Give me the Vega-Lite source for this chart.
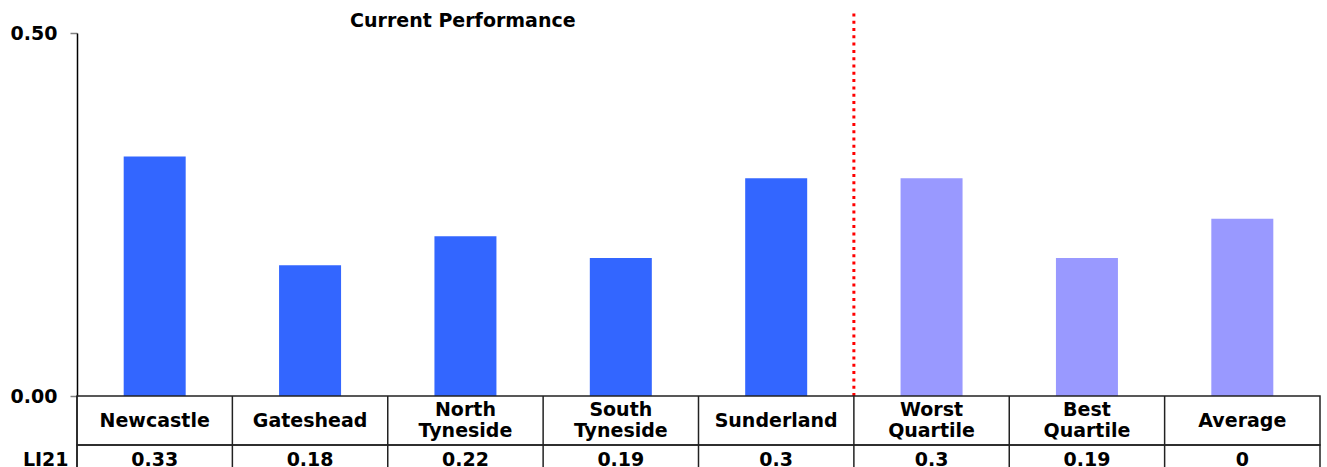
{
  "$schema": "https://vega.github.io/schema/vega-lite/v6.json",
  "background": "white",
  "padding": {"left": 10, "top": 9, "right": 0, "bottom": 0},
  "bounds": "flush",
  "config": {
    "font": "DejaVu Sans",
    "view": {"stroke": null},
    "axis": {"labelFont": "DejaVu Sans", "labelFontWeight": "bold", "labelFontSize": 19, "labelColor": "black", "grid": false}
  },
  "datasets": {
    "li21": [
      {"indicator": "LI21", "area": "Newcastle", "value": 0.33, "label": "0.33", "group": "Authority"},
      {"indicator": "LI21", "area": "Gateshead", "value": 0.18, "label": "0.18", "group": "Authority"},
      {"indicator": "LI21", "area": "North Tyneside", "value": 0.22, "label": "0.22", "group": "Authority"},
      {"indicator": "LI21", "area": "South Tyneside", "value": 0.19, "label": "0.19", "group": "Authority"},
      {"indicator": "LI21", "area": "Sunderland", "value": 0.30, "label": "0.3", "group": "Authority"},
      {"indicator": "LI21", "area": "Worst Quartile", "value": 0.30, "label": "0.3", "group": "Benchmark"},
      {"indicator": "LI21", "area": "Best Quartile", "value": 0.19, "label": "0.19", "group": "Benchmark"},
      {"indicator": "LI21", "area": "Average", "value": 0.244, "label": "0", "group": "Benchmark"}
    ]
  },
  "spacing": 0,
  "vconcat": [
    {
      "width": 1243,
      "height": 363,
      "title": {"text": "Current Performance", "anchor": "start", "offset": -21, "dx": 340, "fontSize": 19, "fontWeight": "bold", "font": "DejaVu Sans", "color": "black"},
      "data": {"name": "li21"},
      "layer": [
        {
          "mark": {"type": "bar", "width": 62},
          "encoding": {
            "x": {
              "field": "area", "type": "nominal", "sort": null,
              "scale": {"type": "band", "paddingInner": 0, "paddingOuter": 0, "domain": ["Newcastle", "Gateshead", "North Tyneside", "South Tyneside", "Sunderland", "Worst Quartile", "Best Quartile", "Average"]},
              "axis": null
            },
            "y": {
              "field": "value", "type": "quantitative", "stack": null,
              "scale": {"domain": [0, 0.5], "nice": false},
              "axis": {"title": null, "values": [0, 0.5], "format": ".2f", "tickSize": 7, "tickColor": "#808080", "tickWidth": 1.5, "domainColor": "black", "domainWidth": 1.5, "labelPadding": 13}
            },
            "color": {"field": "group", "type": "nominal", "scale": {"domain": ["Authority", "Benchmark"], "range": ["#3366FF", "#9999FF"]}, "legend": null}
          }
        },
        {
          "transform": [{"filter": "datum.area === 'Worst Quartile'"}],
          "mark": {"type": "rule", "color": "#FF0000", "strokeWidth": 3, "strokeDash": [3, 4.3]},
          "encoding": {
            "x": {
              "field": "area", "type": "nominal", "sort": null, "bandPosition": 0,
              "scale": {"type": "band", "paddingInner": 0, "paddingOuter": 0, "domain": ["Newcastle", "Gateshead", "North Tyneside", "South Tyneside", "Sunderland", "Worst Quartile", "Best Quartile", "Average"]}
            },
            "y": {"datum": 0},
            "y2": {"datum": 0.53}
          }
        }
      ]
    },
    {
      "width": 1243,
      "height": 49,
      "data": {"name": "li21"},
      "view": {"stroke": "#222222", "strokeWidth": 1.5},
      "layer": [
        {
          "transform": [{"filter": "indexof(datum.area, ' ') < 0"}],
          "mark": {"type": "text", "fontWeight": "bold", "fontSize": 19, "color": "black", "baseline": "middle"},
          "encoding": {
            "x": {
              "field": "area", "type": "nominal", "sort": null,
              "scale": {"type": "band", "paddingInner": 0, "paddingOuter": 0, "domain": ["Newcastle", "Gateshead", "North Tyneside", "South Tyneside", "Sunderland", "Worst Quartile", "Best Quartile", "Average"]},
              "axis": null
            },
            "text": {"field": "area"}
          }
        },
        {
          "transform": [{"filter": "indexof(datum.area, ' ') > 0"}],
          "mark": {"type": "text", "fontWeight": "bold", "fontSize": 19, "color": "black", "baseline": "middle", "lineBreak": " ", "lineHeight": 21, "dy": -10.5},
          "encoding": {
            "x": {
              "field": "area", "type": "nominal", "sort": null,
              "scale": {"type": "band", "paddingInner": 0, "paddingOuter": 0, "domain": ["Newcastle", "Gateshead", "North Tyneside", "South Tyneside", "Sunderland", "Worst Quartile", "Best Quartile", "Average"]}
            },
            "text": {"field": "area"}
          }
        },
        {
          "mark": {"type": "rule", "color": "#222222", "strokeWidth": 1.5},
          "encoding": {
            "x": {
              "field": "area", "type": "nominal", "sort": null, "bandPosition": 0,
              "scale": {"type": "band", "paddingInner": 0, "paddingOuter": 0, "domain": ["Newcastle", "Gateshead", "North Tyneside", "South Tyneside", "Sunderland", "Worst Quartile", "Best Quartile", "Average"]}
            }
          }
        }
      ]
    },
    {
      "width": 1243,
      "height": 30,
      "data": {"name": "li21"},
      "view": {"stroke": "#222222", "strokeWidth": 1.5},
      "layer": [
        {
          "mark": {"type": "text", "fontWeight": "bold", "fontSize": 19, "color": "black", "baseline": "middle"},
          "encoding": {
            "x": {
              "field": "area", "type": "nominal", "sort": null,
              "scale": {"type": "band", "paddingInner": 0, "paddingOuter": 0, "domain": ["Newcastle", "Gateshead", "North Tyneside", "South Tyneside", "Sunderland", "Worst Quartile", "Best Quartile", "Average"]},
              "axis": null
            },
            "y": {
              "field": "indicator", "type": "nominal",
              "scale": {"type": "band", "paddingInner": 0, "paddingOuter": 0},
              "axis": {"title": null, "ticks": false, "domain": false, "labelPadding": 9}
            },
            "text": {"field": "label"}
          }
        },
        {
          "mark": {"type": "rule", "color": "#222222", "strokeWidth": 1.5},
          "encoding": {
            "x": {
              "field": "area", "type": "nominal", "sort": null, "bandPosition": 0,
              "scale": {"type": "band", "paddingInner": 0, "paddingOuter": 0, "domain": ["Newcastle", "Gateshead", "North Tyneside", "South Tyneside", "Sunderland", "Worst Quartile", "Best Quartile", "Average"]}
            }
          }
        }
      ]
    }
  ]
}
